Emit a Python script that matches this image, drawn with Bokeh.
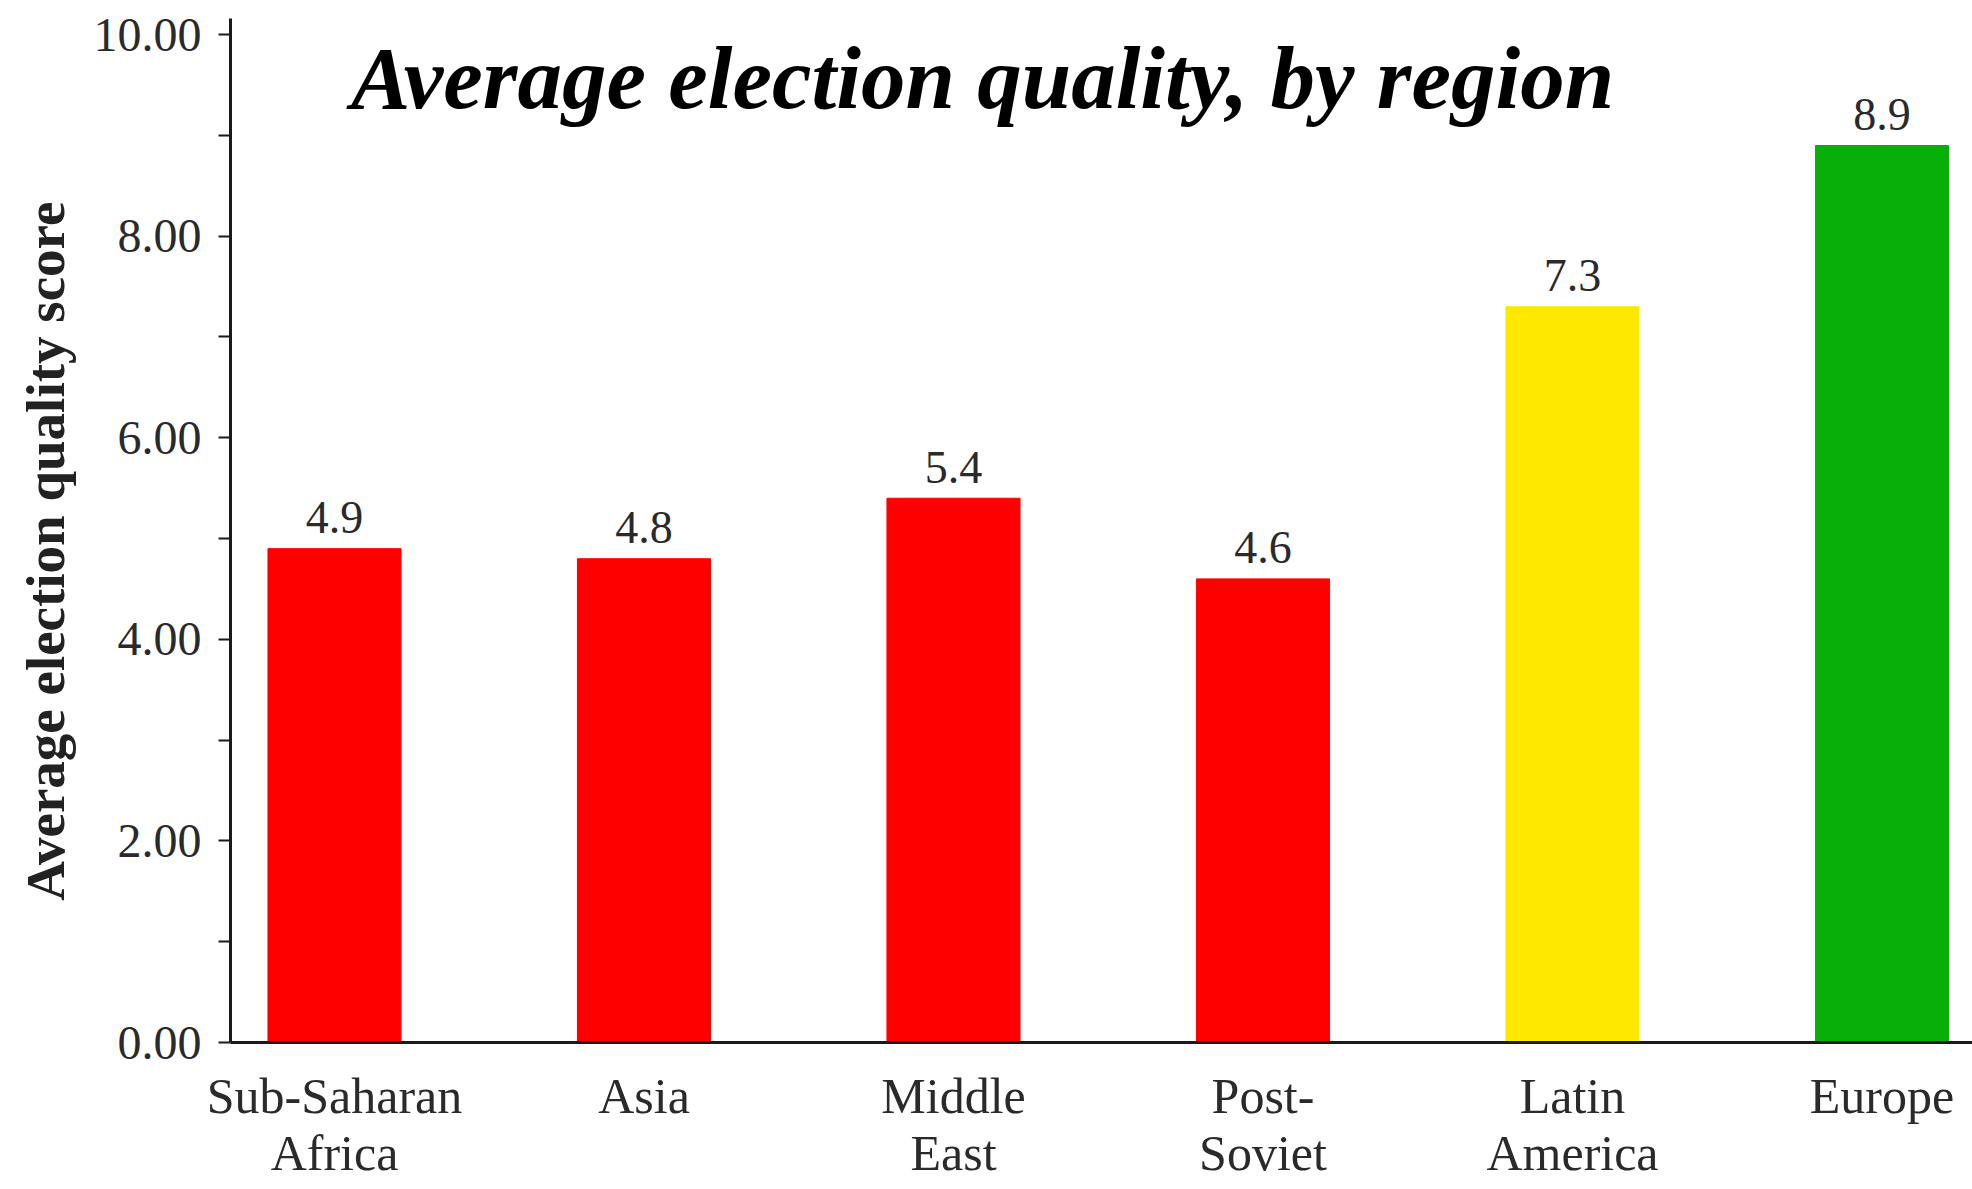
from bokeh.plotting import figure
from bokeh.models import Range1d, FixedTicker, PrintfTickFormatter, Label, ColumnDataSource
from bokeh.core.properties import value
from bokeh.embed import file_html
from bokeh.resources import INLINE

regions = ["Sub-Saharan\nAfrica", "Asia", "Middle\nEast", "Post-\nSoviet", "Latin\nAmerica", "Europe"]
scores = [4.9, 4.8, 5.4, 4.6, 7.3, 8.9]
y_ticks = [0, 2, 4, 6, 8, 10]
y_minor = [1, 3, 5, 7, 9]

bar_colors = ["#FF0000", "#FF0000", "#FF0000", "#FF0000", "#FFE800", "#08AF08"]
SERIF = "Liberation Serif"

xs = list(range(len(regions)))
src = ColumnDataSource(dict(x=xs, y=scores, color=bar_colors,
                            label=["%.1f" % v for v in scores]))

X0, X1 = -1.0792, 5.2924      # canvas-wide x range
Y0, Y1 = -1.4585, 10.3386     # canvas-high y range
Y_AXIS_AT = -0.336            # where the value axis sits
Y_TOP = 10.16

p = figure(width=1972, height=1189, output_backend="svg", toolbar_location=None,
           x_range=Range1d(X0, X1), y_range=Range1d(Y0, Y1),
           min_border_left=0, min_border_right=0, min_border_top=0, min_border_bottom=0)
p.outline_line_color = None
p.grid.visible = False
p.background_fill_color = "white"

p.vbar(x="x", top="y", bottom=0, width=0.43, source=src,
       fill_color="color", line_color="color")

p.text(x="x", y="y", text="label", source=src, y_offset=-31,
       text_align="center", text_baseline="middle",
       text_font=value(SERIF), text_font_size="46px", text_color="#2a2a2a")

title = Label(x=2.094, y=9.57, text="Average election quality, by region",
              text_align="center", text_baseline="middle",
              text_font=SERIF, text_font_style="bold italic",
              text_font_size="89px", text_color="black")
p.add_layout(title)

# y axis, pinned at its data position
ya = p.yaxis[0]
ya.fixed_location = Y_AXIS_AT
ya.bounds = (0, Y_TOP)
ya.ticker = FixedTicker(ticks=y_ticks, minor_ticks=y_minor)
ya.formatter = PrintfTickFormatter(format="%.2f")
ya.axis_line_width = 3
ya.axis_line_color = "#1a1a1a"
ya.major_tick_out = 12
ya.major_tick_in = 0
ya.minor_tick_out = 12
ya.minor_tick_in = 0
ya.major_tick_line_width = 2
ya.minor_tick_line_width = 2
ya.major_tick_line_color = "#1a1a1a"
ya.minor_tick_line_color = "#1a1a1a"
ya.major_label_standoff = 17
ya.major_label_text_font = SERIF
ya.major_label_text_font_size = "48px"
ya.major_label_text_color = "#2a2a2a"
ya.axis_label = "Average election quality score" + "\u00a0" * 3
ya.axis_label_text_font = SERIF
ya.axis_label_text_font_style = "bold"
ya.axis_label_text_font_size = "55px"
ya.axis_label_text_color = "#222222"
ya.axis_label_standoff = 15

# x axis, pinned at zero
xa = p.xaxis[0]
xa.fixed_location = 0
xa.bounds = (Y_AXIS_AT, X1)
xa.ticker = FixedTicker(ticks=xs)
xa.major_label_overrides = {i: r for i, r in zip(xs, regions)}
xa.axis_line_width = 3
xa.axis_line_color = "#1a1a1a"
xa.major_tick_line_color = None
xa.minor_tick_line_color = None
xa.major_tick_out = 0
xa.major_tick_in = 0
xa.major_label_standoff = 25
xa.major_label_text_font = SERIF
xa.major_label_text_font_size = "50px"
xa.major_label_text_line_height = 1.03
xa.major_label_text_color = "#2a2a2a"

open("out.html", "w").write(file_html(p, INLINE))
